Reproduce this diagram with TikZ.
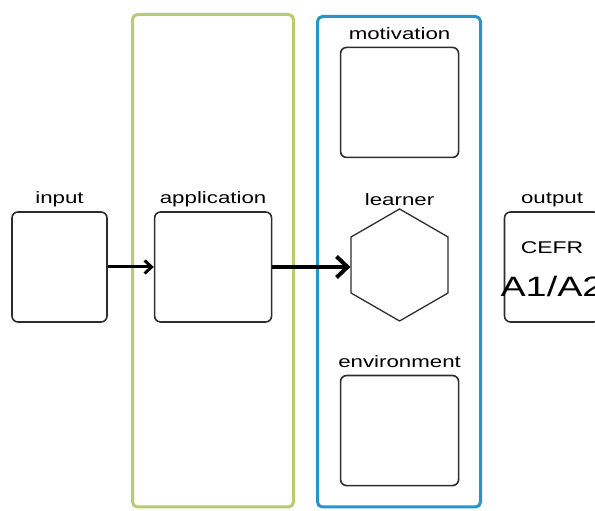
\documentclass[tikz,border=0pt]{standalone}
\usepackage{fontspec}
\setmainfont{Liberation Sans}[FakeStretch=1.35]
\usepackage{tikz}
\usetikzlibrary{positioning,shapes.geometric,arrows.meta}

\definecolor{appgreen}{RGB}{183,203,112}
\definecolor{learnblue}{RGB}{38,150,202}
\definecolor{boxgray}{RGB}{45,45,45}

\begin{document}
\begin{tikzpicture}[x=1pt, y=1pt,
    box/.style = {draw=boxgray, line width=1.6pt, rounded corners=6pt,
                  minimum width=95pt, minimum height=110pt, inner sep=0pt},
    widebox/.style = {box, minimum width=118pt},
    lbl/.style = {inner sep=0pt, text depth=3.5pt, font=\fontsize{16.5}{19}\selectfont},
    frame/.style = {line width=3pt, rounded corners=5pt},
    flow/.style = {draw=black, -{Straight Barb[length=7pt, width=13pt]}}
  ]
  \useasboundingbox (0,0) rectangle (595,511);

  % frames
  \draw[frame, appgreen] (132.5,4) rectangle (293.5,496.5);
  \draw[frame, learnblue] (317.5,4) rectangle (480.5,494.5);

  % main row
  \node[box] (input) at (59.5,244) {};
  \node[box, minimum width=117pt, right=46pt of input] (app) {};
  \node[draw=boxgray, line width=1.3pt, regular polygon, regular polygon sides=6,
        shape border rotate=30, minimum size=112pt, inner sep=0pt,
        right=78pt of app, yshift=2pt] (learner) {};
  \node[box, right=55pt of learner, yshift=-2pt] (out) {};

  % learner factors
  \node[widebox, above=50pt of learner] (motiv) {};
  \node[widebox, below=53pt of learner] (env) {};

  % labels
  \node[lbl, above=3.5pt of input] {input};
  \node[lbl, above=3.5pt of app] {application};
  \node[lbl, above=-1pt of learner] {learner};
  \node[lbl, above=3.5pt of out] {output};
  \node[lbl, above=3.5pt of motiv] {motivation};
  \node[lbl, above=3.5pt of env] {environment};

  \node[anchor=base, inner sep=0pt, font=\fontsize{17}{20}\selectfont]
    (cefr) at ([yshift=13pt]out.center) {CEFR};
  \node[anchor=base, inner sep=0pt, font=\fontsize{28}{33}\selectfont]
    (level) at ([yshift=-30pt]out.center) {A1/A2};

  % connectors
  \draw[flow, line width=3pt] (input) -- (app);
  \draw[flow, line width=4pt, -{Straight Barb[length=11pt, width=21pt]}]
    (app.east) -- (app.east -| learner.west);
\end{tikzpicture}
\end{document}
